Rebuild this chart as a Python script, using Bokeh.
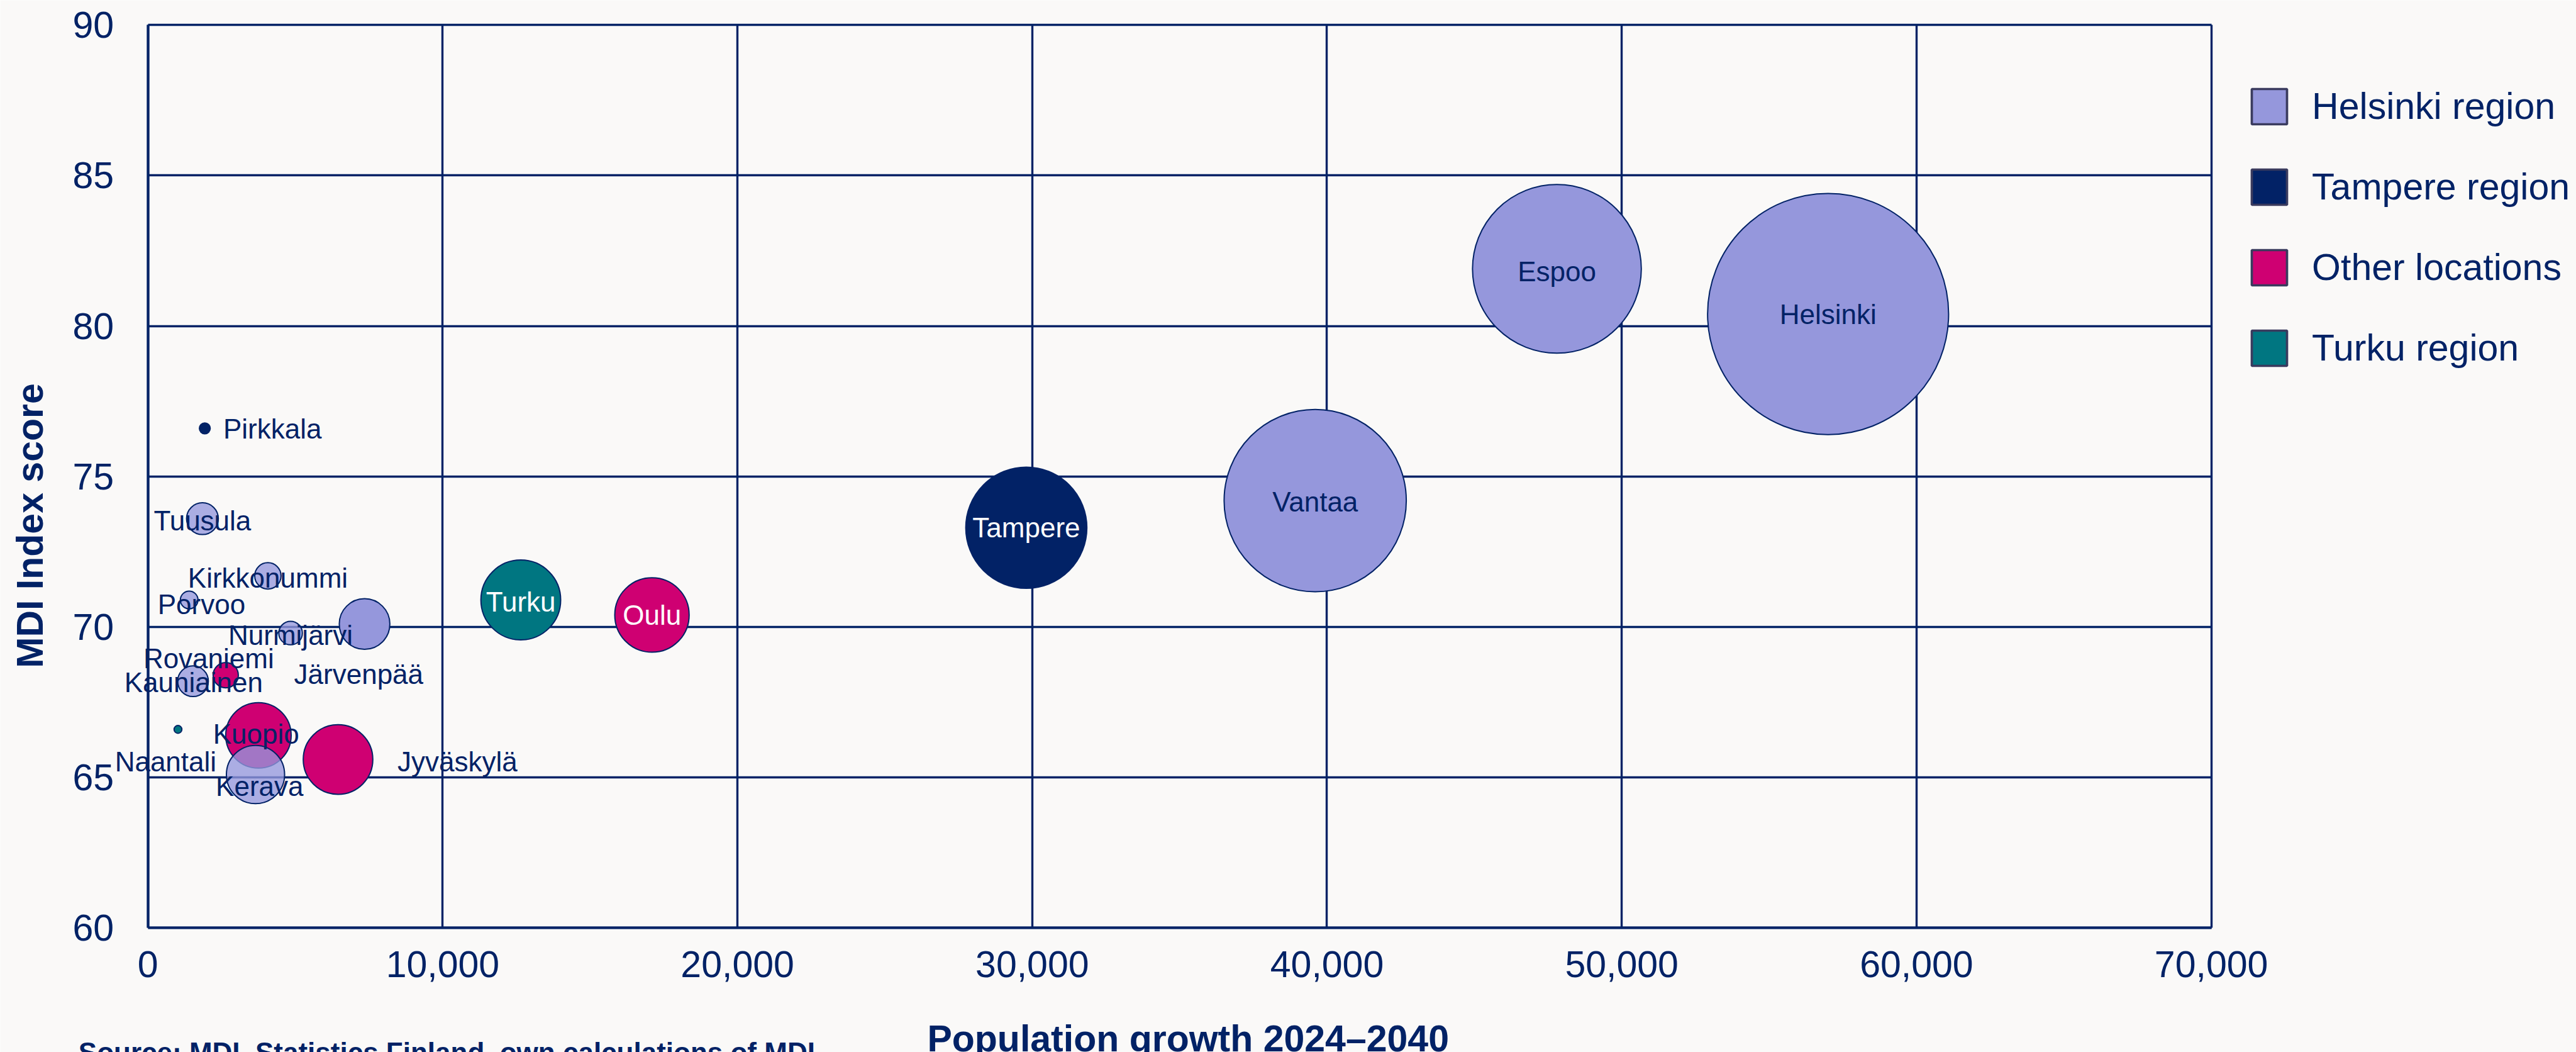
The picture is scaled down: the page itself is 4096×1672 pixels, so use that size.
import math
from bokeh.plotting import figure
from bokeh.models import (ColumnDataSource, Range1d, FixedTicker, NumeralTickFormatter,
                          LabelSet, Label, Legend, LegendItem, LinearAxis)
from bokeh.core.properties import value
from bokeh.embed import file_html
from bokeh.resources import INLINE

# ---------------- data ----------------
names = ["Helsinki", "Espoo", "Vantaa", "Tampere", "Turku", "Oulu", "Jyväskylä",
         "Kuopio", "Kerava", "Järvenpää", "Tuusula", "Kauniainen", "Kirkkonummi",
         "Rovaniemi", "Nurmijärvi", "Porvoo", "Naantali", "Pirkkala"]
regions = ["Helsinki region", "Helsinki region", "Helsinki region", "Tampere region",
           "Turku region", "Other locations", "Other locations", "Other locations",
           "Helsinki region", "Helsinki region", "Helsinki region", "Helsinki region",
           "Helsinki region", "Other locations", "Helsinki region", "Helsinki region",
           "Turku region", "Tampere region"]
population_growth = [57000, 47800, 39600, 29800, 12650, 17100, 6450,
                     3750, 3650, 7350, 1850, 1530, 4070,
                     2640, 4840, 1400, 1020, 1930]
mdi_score = [80.4, 81.9, 74.2, 73.3, 70.9, 70.4, 65.6,
             66.4, 65.1, 70.1, 73.6, 68.2, 71.7,
             68.4, 69.8, 70.9, 66.6, 76.6]
bubble_value = [420, 206, 240, 106, 46, 40, 35,
                31, 24.5, 18.5, 7.3, 6.8, 5.0,
                4.6, 4.0, 2.25, 0.44, 0.85]

legend_labels = ["Helsinki region", "Tampere region", "Other locations", "Turku region"]
x_ticks = [0, 10000, 20000, 30000, 40000, 50000, 60000, 70000]
y_ticks = [60, 65, 70, 75, 80, 85, 90]
x_title = "Population growth 2024–2040"
y_title = "MDI Index score"
source_note = "Source: MDI, Statistics Finland, own calculations of MDI"

# ---------------- style / layout ----------------
S = 0.935
W, H = 4096, 1672
NAVY = "#022266"
BG = "#FAF9F8"
FONT = "Liberation Sans"
region_color = {"Helsinki region": "#9597DC", "Tampere region": "#022266",
                "Other locations": "#CF0072", "Turku region": "#007681"}
light_bubbles = {"Tuusula", "Kirkkonummi", "Porvoo", "Nurmijärvi", "Kauniainen", "Kerava"}
white_labels = {"Tampere", "Turku", "Oulu"}
# label offsets in reference pixels (dx right, dy down)
label_offset = {"Espoo": (0, 4), "Vantaa": (0, 2), "Turku": (0, 3),
                "Jyväskylä": (203, 4), "Kuopio": (-4, -2), "Kerava": (7, 20),
                "Järvenpää": (-10, 85), "Tuusula": (0, 3), "Kauniainen": (1, 2),
                "Kirkkonummi": (0, 3), "Rovaniemi": (-29, -28), "Nurmijärvi": (0, 4),
                "Porvoo": (21, 7), "Naantali": (-21, 55), "Pirkkala": (115, 1)}

# plot-area edges on the canvas (px)
PL, PR, PT, PB = 251 * S, 3760 * S, 42 * S, 1577 * S
x0, x1 = x_ticks[0], x_ticks[-1]
y0, y1 = y_ticks[0], y_ticks[-1]
xpp = (x1 - x0) / (PR - PL)
ypp = (y1 - y0) / (PB - PT)
x_range = Range1d(x0 - PL * xpp, x1 + (W - PR) * xpp)
y_range = Range1d(y0 - (H - PB) * ypp, y1 + PT * ypp)

src = ColumnDataSource(dict(
    name=names, region=regions, x=population_growth, y=mdi_score,
    size=[2 * 10 * math.sqrt(v) * S for v in bubble_value],
    fill=[region_color[r] for r in regions],
    alpha=[0.78 if n in light_bubbles else 1.0 for n in names],
    dx=[label_offset.get(n, (0, 0))[0] * S for n in names],
    dy=[-label_offset.get(n, (0, 0))[1] * S for n in names],
    tcolor=["white" if n in white_labels else NAVY for n in names],
))

p = figure(frame_width=W, frame_height=H, output_backend="svg", toolbar_location=None,
           x_range=x_range, y_range=y_range, x_axis_location=None, y_axis_location=None,
           min_border=0, background_fill_color=BG, border_fill_color=BG)
p.outline_line_color = None

xaxis = LinearAxis(fixed_location=y0, bounds=(x0, x1), ticker=FixedTicker(ticks=x_ticks),
                   formatter=NumeralTickFormatter(format="0,0"), major_label_standoff=37)
yaxis = LinearAxis(fixed_location=x0, bounds=(y0, y1), ticker=FixedTicker(ticks=y_ticks),
                   major_label_standoff=54)
for ax in (xaxis, yaxis):
    ax.axis_line_color = NAVY
    ax.axis_line_width = 4.2
    ax.major_tick_in = 0
    ax.major_tick_out = 0
    ax.minor_tick_in = 0
    ax.minor_tick_out = 0
    ax.major_label_text_font = FONT
    ax.major_label_text_font_size = "59px"
    ax.major_label_text_color = NAVY
p.add_layout(xaxis, "below")
p.add_layout(yaxis, "left")

p.xgrid.ticker = FixedTicker(ticks=x_ticks)
p.ygrid.ticker = FixedTicker(ticks=y_ticks)
p.xgrid.bounds = (x0, x1)
p.ygrid.bounds = (y0, y1)
p.xgrid.cross_bounds = (y0, y1)
p.ygrid.cross_bounds = (x0, x1)
for g in (p.xgrid[0], p.ygrid[0]):
    g.grid_line_color = NAVY
    g.grid_line_width = 3.4

p.scatter(x="x", y="y", size="size", source=src, marker="circle",
          fill_color="fill", fill_alpha="alpha", line_color=NAVY, line_width=2.0)

labels = LabelSet(x="x", y="y", text="name", source=src, x_offset="dx", y_offset="dy",
                  text_align="center", text_baseline="middle", text_color="tcolor",
                  text_font=value(FONT), text_font_size=value("44px"))
p.add_layout(labels)

# legend with square swatches (hidden quad renderers spanning each region's points)
items = []
for lab in legend_labels:
    xs = [x for x, r in zip(population_growth, regions) if r == lab]
    ys = [y for y, r in zip(mdi_score, regions) if r == lab]
    rq = p.quad(left=[min(xs)], right=[max(xs)], bottom=[min(ys)], top=[max(ys)],
                fill_color=region_color[lab], line_color="#3A3B5E", line_width=3.7,
                visible=False)
    items.append(LegendItem(label=lab, renderers=[rq]))
leg_left = 3829 * S - 7
leg_top = 181 * S - 35
leg_h = 4 * 70 + 3 * 58
legend = Legend(items=items, location=(leg_left, H - leg_top - leg_h), orientation="vertical",
                glyph_width=70, glyph_height=70, label_standoff=33, spacing=58,
                padding=0, margin=0, border_line_alpha=0, background_fill_alpha=0,
                inactive_fill_alpha=0,
                label_text_font=FONT, label_text_font_size="59px", label_text_color=NAVY)
p.add_layout(legend)

p.add_layout(Label(x=51 * S, y=H - 893 * S, x_units="screen", y_units="screen",
                   text=y_title, angle=math.pi / 2, text_align="center",
                   text_baseline="middle", text_font=FONT, text_font_style="bold",
                   text_font_size="59px", text_color=NAVY))
p.add_layout(Label(x=2020 * S, y=H - 1782 * S + 16, x_units="screen", y_units="screen",
                   text=x_title, text_align="center", text_baseline="alphabetic",
                   text_font=FONT, text_font_style="bold", text_font_size="59px",
                   text_color=NAVY))
p.add_layout(Label(x=133 * S, y=H - 1781 * S + 18, x_units="screen", y_units="screen",
                   text=source_note, text_align="left", text_baseline="top",
                   text_font=FONT, text_font_style="bold", text_font_size="44px",
                   text_color=NAVY))

open("out.html", "w").write(file_html(p, INLINE))
